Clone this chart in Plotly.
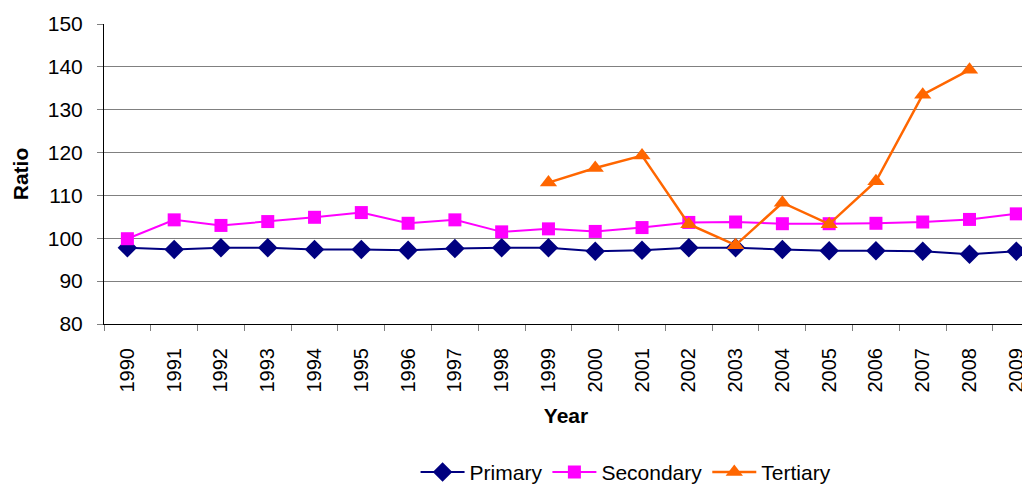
import plotly.graph_objects as go

years = [str(y) for y in range(1990, 2010)]
primary = [97.8, 97.4, 97.8, 97.8, 97.4, 97.4, 97.2, 97.6, 97.8, 97.8,
           97.0, 97.2, 97.8, 97.8, 97.4, 97.1, 97.1, 97.0, 96.3, 97.0]
secondary = [99.9, 104.3, 103.0, 103.9, 104.9, 106.0, 103.5, 104.3, 101.5, 102.2,
             101.6, 102.5, 103.7, 103.8, 103.4, 103.4, 103.5, 103.8, 104.4, 105.7]
tertiary = [None] * 9 + [113.0, 116.4, 119.3, 103.3, 98.4, 108.3, 103.3, 113.3, 133.5, 139.3, None]

fig = go.Figure()
fig.add_trace(go.Scatter(x=years, y=primary, name="Primary", mode="lines+markers",
                         line=dict(color="#000080", width=2),
                         marker=dict(symbol="diamond", size=15, color="#000080")))
fig.add_trace(go.Scatter(x=years, y=secondary, name="Secondary", mode="lines+markers",
                         line=dict(color="#FF00FF", width=2),
                         marker=dict(symbol="square", size=13, color="#FF00FF")))
fig.add_trace(go.Scatter(x=years, y=tertiary, name="Tertiary", mode="lines+markers",
                         line=dict(color="#FF6600", width=2.5),
                         marker=dict(symbol="triangle-up", size=15, color="#FF6600")))

font = "Liberation Sans, Arial, sans-serif"
fig.update_layout(
    width=1022, height=486,
    margin=dict(l=96, r=2, t=16, b=169),
    paper_bgcolor="white", plot_bgcolor="white",
    font=dict(family=font, size=20, color="black"),
    showlegend=True,
    legend=dict(orientation="h", x=0.565, xanchor="center", y=-0.558, yanchor="bottom",
                font=dict(size=21), tracegroupgap=0, itemwidth=44),
    xaxis=dict(
        type="category", range=[-0.5, 19.25],
        tickangle=-90, showgrid=False, automargin=False,
        showline=True, linecolor="black", linewidth=1,
        ticks="outside", ticklen=6, tickcolor="#808080", tickson="boundaries",
        tickfont=dict(size=20), ticklabelstandoff=15,
        title=dict(text="<b>Year</b>", font=dict(size=21), standoff=16),
    ),
    yaxis=dict(
        range=[80, 150], dtick=10, automargin=False,
        showgrid=True, gridcolor="#808080", gridwidth=1,
        showline=True, linecolor="black", linewidth=1,
        ticks="outside", ticklen=6, tickcolor="#808080",
        tickfont=dict(size=21), ticklabelstandoff=10,
        title=dict(text="<b>Ratio</b>", font=dict(size=21), standoff=13),
        zeroline=False,
    ),
)

fig.write_html("out.html")
